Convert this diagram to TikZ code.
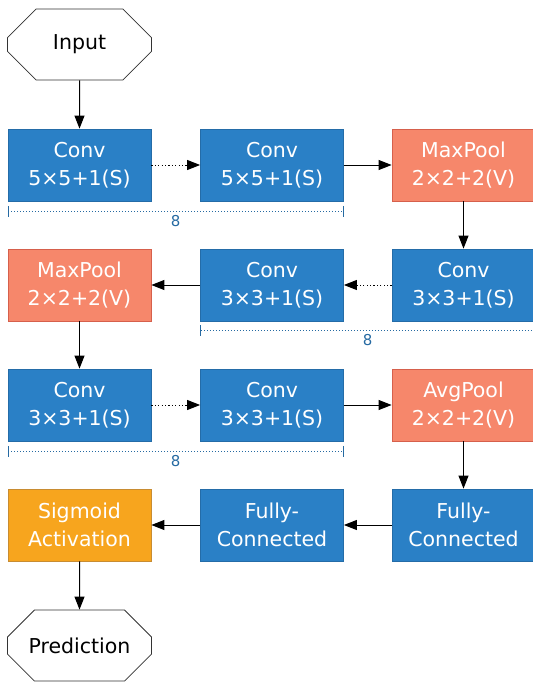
\documentclass[tikz,border=0pt]{standalone}
\usepackage{fontspec}
\setmainfont{DejaVu Sans}
\usetikzlibrary{arrows.meta,shapes.misc}

\definecolor{convblue}{RGB}{42,128,198}
\definecolor{convedge}{RGB}{36,108,168}
\definecolor{poolred}{RGB}{246,135,107}
\definecolor{pooledge}{RGB}{214,96,76}
\definecolor{actorange}{RGB}{247,165,30}
\definecolor{actedge}{RGB}{200,140,50}
\definecolor{countblue}{RGB}{38,106,162}

\tikzset{
  layer/.style={rectangle, minimum width=143pt, minimum height=72pt, inner sep=0pt,
    align=center, text=white, font=\fontsize{20.5}{28}\selectfont, line width=0.8pt},
  conv/.style={layer, fill=convblue, draw=convedge},
  pool/.style={layer, fill=poolred, draw=pooledge},
  act/.style={layer, fill=actorange, draw=actedge},
  term/.style={chamfered rectangle, chamfered rectangle xsep=19pt, chamfered rectangle ysep=19pt,
    minimum width=144pt, minimum height=71pt, inner sep=0pt, draw=black!80, fill=white,
    line width=0.8pt, font=\fontsize{20.5}{28}\selectfont},
  flow/.style={-{Triangle[length=13pt,width=10pt]}, line width=1pt},
  repeat/.style={flow, dash pattern=on 1.2pt off 2.2pt},
  dimline/.style={{Bar[width=11pt]}-{Bar[width=11pt]}, countblue, line width=0.9pt, dash pattern=on 1.2pt off 1.8pt},
  count/.style={text=countblue, font=\fontsize{15}{18}\selectfont, below, inner sep=4pt}
}

\begin{document}
\begin{tikzpicture}[x=1pt,y=-1pt]
  \useasboundingbox (0,0) rectangle (533,683);

  % entree et sortie
  \node[term] (input) at (79.5,44.5) {Input};
  \node[term] (pred) at (79.5,645.5) {Prediction};

  % premiere rangee
  \node[conv] (conv1) at (79.5,165) {Conv\\5×5+1(S)};
  \node[conv] (conv2) at (272,165) {Conv\\5×5+1(S)};
  \node[pool] (pool1) at (463.5,165) {MaxPool\\2×2+2(V)};

  % deuxieme rangee
  \node[conv] (conv3) at (463.5,285) {Conv\\3×3+1(S)};
  \node[conv] (conv4) at (272,285) {Conv\\3×3+1(S)};
  \node[pool] (pool2) at (79.5,285) {MaxPool\\2×2+2(V)};

  % troisieme rangee
  \node[conv] (conv5) at (79.5,405) {Conv\\3×3+1(S)};
  \node[conv] (conv6) at (272,405) {Conv\\3×3+1(S)};
  \node[pool] (pool3) at (463.5,405) {AvgPool\\2×2+2(V)};

  % quatrieme rangee
  \node[conv] (fc1) at (463.5,525) {Fully-\\Connected};
  \node[conv] (fc2) at (272,525) {Fully-\\Connected};
  \node[act] (sig) at (79.5,525) {Sigmoid\\Activation};

  % fleches
  \draw[flow] (input) -- (conv1);
  \draw[repeat] (conv1) -- (conv2);
  \draw[flow] (conv2) -- (pool1);
  \draw[flow] (pool1) -- (conv3);
  \draw[repeat] (conv3) -- (conv4);
  \draw[flow] (conv4) -- (pool2);
  \draw[flow] (pool2) -- (conv5);
  \draw[repeat] (conv5) -- (conv6);
  \draw[flow] (conv6) -- (pool3);
  \draw[flow] (pool3) -- (fc1);
  \draw[flow] (fc1) -- (fc2);
  \draw[flow] (fc2) -- (sig);
  \draw[flow] (sig) -- (pred);

  % repetitions
  \draw[dimline] ([yshift=-10pt]conv1.south west) -- node[count] {8} ([yshift=-10pt]conv2.south east);
  \draw[dimline] ([yshift=-9pt]conv4.south west) -- node[count] {8} ([yshift=-9pt]conv3.south east);
  \draw[dimline] ([yshift=-10pt]conv5.south west) -- node[count] {8} ([yshift=-10pt]conv6.south east);
\end{tikzpicture}
\end{document}
